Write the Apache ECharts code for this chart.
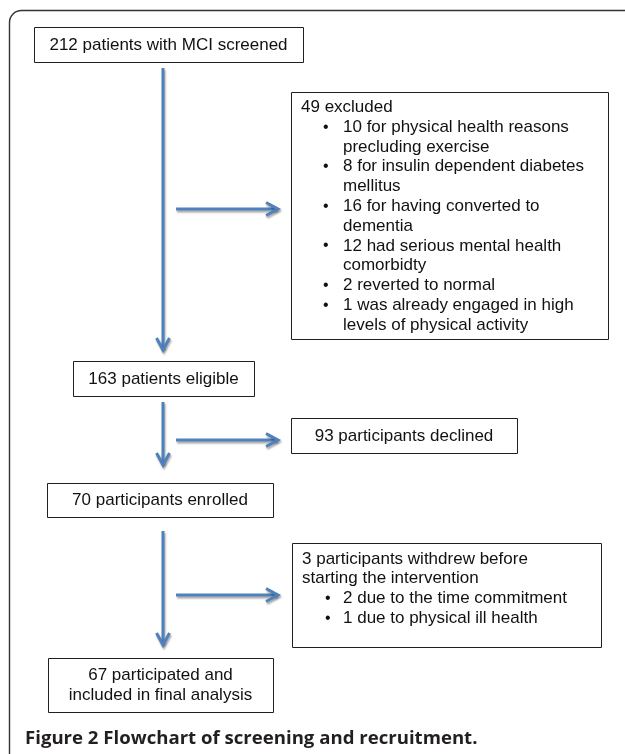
<!DOCTYPE html>
<html>
<head>
<meta charset="utf-8">
<script src="https://cdn.jsdelivr.net/npm/echarts@6/dist/echarts.min.js"></script>
<style>
html,body{margin:0;padding:0;background:#fff;}
#chart{width:625px;height:754px;}
</style>
</head>
<body>
<div id="chart"></div>
<script>
// ---- content ----
const mainSteps = [
  '212 patients with MCI screened',
  '163 patients eligible',
  '70 participants enrolled',
  '67 participated and\nincluded in final analysis'
];
const exclusionHeader = ['49 excluded'];
const exclusionReasons = [
  '10 for physical health reasons\nprecluding exercise',
  '8 for insulin dependent diabetes\nmellitus',
  '16 for having converted to\ndementia',
  '12 had serious mental health\ncomorbidty',
  '2 reverted to normal',
  '1 was already engaged in high\nlevels of physical activity'
];
const declinedHeader = ['93 participants declined'];
const withdrawalHeader = ['3 participants withdrew before', 'starting the intervention'];
const withdrawalReasons = [
  '2 due to the time commitment',
  '1 due to physical ill health'
];
const captionText = 'Figure 2 Flowchart of screening and recruitment.';

// ---- layout (pixels) ----
const mainBoxLayout = [
  {x: 34, y: 27, w: 269, h: 35},
  {x: 73, y: 361, w: 181, h: 35},
  {x: 47, y: 483, w: 226, h: 34},
  {x: 48, y: 658, w: 225, h: 54}
];
const sideBoxLayout = [
  {x: 291, y: 92, w: 317, h: 247, textX: 301, bulletX: 323, itemX: 343, firstY: 107.3},
  {x: 291, y: 418, w: 226, h: 35},
  {x: 292, y: 543, w: 309, h: 104, textX: 302, bulletX: 325, itemX: 343, firstY: 559}
];
const vArrows = [{x: 163, y1: 68, y2: 350}, {x: 163, y1: 402, y2: 465}, {x: 163, y1: 531, y2: 645}];
const hArrows = [{y: 209, x1: 176, x2: 278}, {y: 440, x1: 176, x2: 278}, {y: 595, x1: 176, x2: 278}];

const FONT = '17px "Liberation Sans", Arial, Helvetica, sans-serif';
const LH = 19.8;
const TXT = '#111';
const BOX = '#231f20';
const ARROW = '#4f81bd';

const els = [];
// outer frame
els.push({type: 'rect', shape: {x: 9.5, y: 10.5, width: 660, height: 800, r: 12}, style: {fill: '#fff', stroke: '#333', lineWidth: 1.4}, z: 0});

function box(b) {
  els.push({type: 'rect', shape: {x: b.x + 0.5, y: b.y + 0.5, width: b.w, height: b.h}, style: {fill: '#fff', stroke: BOX, lineWidth: 1}, z: 2});
}
function text(str, x, y, align, font) {
  els.push({type: 'text', x: x, y: y, style: {text: str, font: font || FONT, fill: TXT, align: align, verticalAlign: 'middle'}, z: 3});
}
const shadow = {shadowColor: 'rgba(0,0,0,0.35)', shadowBlur: 2, shadowOffsetX: 1, shadowOffsetY: 2};
function arrowStyle() {
  return Object.assign({fill: null, stroke: ARROW, lineWidth: 3, lineJoin: 'miter', lineCap: 'butt'}, shadow);
}

// main boxes (centered text)
mainSteps.forEach((s, i) => {
  const b = mainBoxLayout[i];
  box(b);
  const lines = s.split('\n');
  const cy = b.y + b.h / 2 + 0.5;
  lines.forEach((ln, k) => {
    text(ln, b.x + b.w / 2, cy + (k - (lines.length - 1) / 2) * LH, 'center');
  });
});

// side boxes
function listBox(b, header, items) {
  box(b);
  let y = b.firstY;
  header.forEach(h => { text(h, b.textX, y, 'left'); y += LH; });
  items.forEach(it => {
    const lines = it.split('\n');
    text('\u2022', b.bulletX, y, 'left', '16px "Liberation Sans", Arial, sans-serif');
    lines.forEach(ln => { text(ln, b.itemX, y, 'left'); y += LH; });
  });
}
listBox(sideBoxLayout[0], exclusionHeader, exclusionReasons);
box(sideBoxLayout[1]);
text(declinedHeader[0], sideBoxLayout[1].x + sideBoxLayout[1].w / 2, sideBoxLayout[1].y + sideBoxLayout[1].h / 2 + 0.5, 'center');
listBox(sideBoxLayout[2], withdrawalHeader, withdrawalReasons);

// arrows
vArrows.forEach(a => {
  els.push({type: 'polyline', shape: {points: [[a.x, a.y1], [a.x, a.y2 - 1]]}, style: arrowStyle(), z: 1});
  els.push({type: 'polyline', shape: {points: [[a.x - 6.5, a.y2 - 12], [a.x, a.y2], [a.x + 6.5, a.y2 - 12]]}, style: arrowStyle(), z: 1});
});
hArrows.forEach(a => {
  els.push({type: 'polyline', shape: {points: [[a.x1, a.y], [a.x2 - 1, a.y]]}, style: arrowStyle(), z: 1});
  els.push({type: 'polyline', shape: {points: [[a.x2 - 12, a.y - 6.5], [a.x2, a.y], [a.x2 - 12, a.y + 6.5]]}, style: arrowStyle(), z: 1});
});

const chart = echarts.init(document.getElementById('chart'), null, {renderer: 'canvas'});
chart.setOption({
  backgroundColor: '#fff',
  animation: false,
  title: {
    text: captionText,
    left: 25,
    top: 729,
    padding: 0,
    textStyle: {fontFamily: '"Open Sans", sans-serif', fontWeight: 'bold', fontSize: 18.6, color: '#231f20'}
  },
  graphic: {elements: els}
});
</script>
</body>
</html>
